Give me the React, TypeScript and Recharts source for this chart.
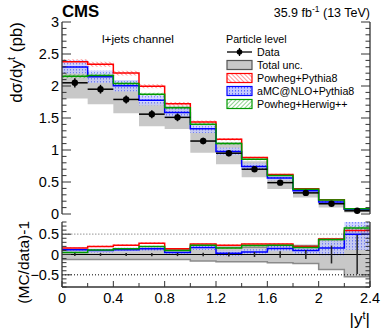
import React from "react";
import { Area, ComposedChart, ErrorBar, Line, ReferenceLine, Scatter, XAxis, YAxis } from "recharts";

const FONT = "'Liberation Sans', Arial, Helvetica, sans-serif";
const AXIS = "#333";

// bins in |y_t|
const binEdges = [0, 0.2, 0.4, 0.6, 0.8, 1.0, 1.2, 1.4, 1.6, 1.8, 2.0, 2.2, 2.4];
// measured cross section (pb) and relative uncertainties
const dataXsec = [2.05, 1.95, 1.79, 1.56, 1.51, 1.14, 0.95, 0.7, 0.49, 0.33, 0.16, 0.05];
const dataStatRel = [0.035, 0.035, 0.035, 0.04, 0.04, 0.045, 0.05, 0.06, 0.08, 0.11, 0.22, 0.48];
const totalUncRel = [0.12, 0.12, 0.12, 0.12, 0.12, 0.16, 0.18, 0.18, 0.2, 0.22, 0.37, 0.55];
// (MC/data)-1 per generator, with their band half widths
const powhegPythiaRatio = [0.16, 0.2, 0.23, 0.28, 0.14, 0.26, 0.23, 0.26, 0.26, 0.2, 0.38, 0.59];
const powhegPythiaUnc = [0.02, 0.02, 0.02, 0.02, 0.02, 0.02, 0.02, 0.02, 0.025, 0.025, 0.03, 0.05];
const amcRatio = [0.12, 0.1, 0.12, 0.14, 0.05, 0.17, 0.03, 0.06, 0.15, 0.1, 0.16, 0.5];
const amcUnc = [0.05, 0.05, 0.05, 0.05, 0.05, 0.06, 0.06, 0.07, 0.07, 0.08, 0.18, 0.38];
const powhegHerwigRatio = [0.05, 0.11, 0.14, 0.2, 0.1, 0.23, 0.16, 0.22, 0.23, 0.17, 0.37, 0.65];
const powhegHerwigUnc = [0.015, 0.015, 0.015, 0.015, 0.015, 0.015, 0.02, 0.02, 0.02, 0.025, 0.03, 0.05];

const yMajorTop = [0, 0.5, 1, 1.5, 2, 2.5, 3];
const yMajorRatio = [-0.5, 0, 0.5];
const xMajor = [0, 0.4, 0.8, 1.2, 1.6, 2, 2.4];

const yMinorTop = Array.from({ length: 31 }, (_, i) => i / 10);
const yMinorRatio = Array.from({ length: 17 }, (_, i) => (i - 8) / 10);

const nBins = dataXsec.length;

const stepRows = binEdges.map((x, i) => {
  const k = Math.min(i, nBins - 1);
  const d = dataXsec[k];
  const red = d * (1 + powhegPythiaRatio[k]);
  const blue = d * (1 + amcRatio[k]);
  const green = d * (1 + powhegHerwigRatio[k]);
  return {
    x,
    tot: [d * (1 - totalUncRel[k]), d * (1 + totalUncRel[k])],
    red,
    redBand: [red - d * powhegPythiaUnc[k], red + d * powhegPythiaUnc[k]],
    blue,
    blueBand: [blue - d * amcUnc[k], blue + d * amcUnc[k]],
    green,
    greenBand: [green - d * powhegHerwigUnc[k], green + d * powhegHerwigUnc[k]],
    rTot: [-totalUncRel[k], totalUncRel[k]],
    rRed: powhegPythiaRatio[k],
    rRedBand: [powhegPythiaRatio[k] - powhegPythiaUnc[k], powhegPythiaRatio[k] + powhegPythiaUnc[k]],
    rBlue: amcRatio[k],
    rBlueBand: [amcRatio[k] - amcUnc[k], amcRatio[k] + amcUnc[k]],
    rGreen: powhegHerwigRatio[k],
    rGreenBand: [powhegHerwigRatio[k] - powhegHerwigUnc[k], powhegHerwigRatio[k] + powhegHerwigUnc[k]],
  };
});

const points = dataXsec.map((d, i) => ({
  x: (binEdges[i] + binEdges[i + 1]) / 2,
  y: d,
  r: 0,
  ex: (binEdges[i + 1] - binEdges[i]) / 2,
  ey: d * dataStatRel[i],
  er: dataStatRel[i],
}));

const fmt = (v: number) => (v < 0 ? "\u2212" : "") + String(+Math.abs(v).toFixed(2));

type Side = "left" | "right" | "top" | "bottom";
function makeTick(side: Side, major: number[], majorLen: number, minorLen: number, withLabel = false) {
  return (props: any) => {
    const { x, y, payload } = props;
    const v = payload.value as number;
    const isMajor = major.some((m) => Math.abs(m - v) < 1e-6);
    const len = isMajor ? majorLen : minorLen;
    let line;
    if (side === "left") line = <line x1={x} y1={y} x2={x + len} y2={y} />;
    else if (side === "right") line = <line x1={x} y1={y} x2={x - len} y2={y} />;
    else if (side === "top") line = <line x1={x} y1={y} x2={x} y2={y + len} />;
    else line = <line x1={x} y1={y} x2={x} y2={y - len} />;
    let label = null;
    if (withLabel && isMajor) {
      label =
        side === "left" ? (
          <text x={x - 3} y={y + 5} textAnchor="end" fontSize={14.5} fontFamily={FONT} fill="#000">
            {fmt(v)}
          </text>
        ) : (
          <text x={x} y={y + 16} textAnchor="middle" fontSize={14.5} fontFamily={FONT} fill="#000">
            {fmt(v)}
          </text>
        );
    }
    return (
      <g>
        <g stroke={AXIS} strokeWidth={1}>{line}</g>
        {label}
      </g>
    );
  };
}

function Patterns({ prefix }: { prefix: string }) {
  return (
    <defs>
      <pattern id={`${prefix}-red`} patternUnits="userSpaceOnUse" width="3" height="3" patternTransform="rotate(-45)">
        <line x1="0" y1="0" x2="0" y2="3" stroke="#ff3030" strokeWidth="1" />
      </pattern>
      <pattern id={`${prefix}-green`} patternUnits="userSpaceOnUse" width="3" height="3" patternTransform="rotate(45)">
        <line x1="0" y1="0" x2="0" y2="3" stroke="#20a820" strokeWidth="1" />
      </pattern>
      <pattern id={`${prefix}-blue`} patternUnits="userSpaceOnUse" width="3" height="3">
        <rect width="3" height="3" fill="#c4c9ff" />
        <rect x="1" y="0" width="1" height="1.5" fill="#5565ff" />
      </pattern>
    </defs>
  );
}

const RED = "#ff0000";
const BLUE = "#0000ff";
const GREEN = "#009a00";
const GREY = "#c8c8c8";

function TopPanel() {
  const xTicks = binEdges;
  return (
    <ComposedChart width={390} height={232} data={stepRows} margin={{ top: 22, right: 0, left: 0, bottom: 18 }}>
      <Patterns prefix="top" />
      <XAxis dataKey="x" type="number" domain={[0, 2.4]} allowDataOverflow ticks={xTicks} interval={0} height={0}
        tickSize={0} tickMargin={0} axisLine={{ stroke: AXIS, strokeWidth: 1.3 }} tickLine={false}
        tick={makeTick("bottom", xMajor, 8, 4)} />
      <XAxis xAxisId="t" orientation="top" type="number" domain={[0, 2.4]} allowDataOverflow ticks={xTicks} interval={0}
        height={0} tickSize={0} tickMargin={0} axisLine={{ stroke: AXIS, strokeWidth: 1.3 }} tickLine={false}
        tick={makeTick("top", xMajor, 8, 4)} />
      <YAxis type="number" domain={[0, 3]} allowDataOverflow ticks={yMinorTop} interval={0} width={62} tickSize={0}
        tickMargin={0} axisLine={{ stroke: AXIS, strokeWidth: 1.3 }} tickLine={false}
        tick={makeTick("left", yMajorTop, 9, 4.5, true)} />
      <YAxis yAxisId="r" orientation="right" type="number" domain={[0, 3]} allowDataOverflow ticks={yMinorTop}
        interval={0} width={20} tickSize={0} tickMargin={0} axisLine={{ stroke: AXIS, strokeWidth: 1.3 }}
        tickLine={false} tick={makeTick("right", yMajorTop, 9, 4.5)} />

      <Area dataKey="tot" type="stepAfter" fill={GREY} fillOpacity={1} stroke="none" isAnimationActive={false} activeDot={false} />
      <Area dataKey="redBand" type="stepAfter" fill="url(#top-red)" fillOpacity={1} stroke="none" isAnimationActive={false} activeDot={false} />
      <Line dataKey="red" type="stepAfter" stroke={RED} strokeWidth={1.5} dot={false} activeDot={false} isAnimationActive={false} />
      <Area dataKey="blueBand" type="stepAfter" fill="url(#top-blue)" fillOpacity={0.75} stroke="none" isAnimationActive={false} activeDot={false} />
      <Line dataKey="blue" type="stepAfter" stroke={BLUE} strokeWidth={1.5} dot={false} activeDot={false} isAnimationActive={false} />
      <Area dataKey="greenBand" type="stepAfter" fill="url(#top-green)" fillOpacity={1} stroke="none" isAnimationActive={false} activeDot={false} />
      <Line dataKey="green" type="stepAfter" stroke={GREEN} strokeWidth={1.5} dot={false} activeDot={false} isAnimationActive={false} />

      <Scatter data={points} dataKey="y" isAnimationActive={false}
        shape={(p: any) => <circle cx={p.cx} cy={p.cy} r={3.2} fill="#000" />}>
        <ErrorBar dataKey="ey" direction="y" width={0} stroke="#000" strokeWidth={1.5} isAnimationActive={false} />
        <ErrorBar dataKey="ex" direction="x" width={0} stroke="#000" strokeWidth={1.5} isAnimationActive={false} />
      </Scatter>
    </ComposedChart>
  );
}

function RatioPanel() {
  const xTicks = binEdges;
  return (
    <ComposedChart width={390} height={115} data={stepRows} margin={{ top: 6, right: 0, left: 0, bottom: 0 }}>
      <Patterns prefix="rat" />
      <XAxis dataKey="x" type="number" domain={[0, 2.4]} allowDataOverflow ticks={xTicks} interval={0} height={44}
        tickSize={0} tickMargin={0} axisLine={{ stroke: AXIS, strokeWidth: 1.3 }} tickLine={false}
        tick={makeTick("bottom", xMajor, 6, 4, true)} />
      <XAxis xAxisId="t" orientation="top" type="number" domain={[0, 2.4]} allowDataOverflow ticks={xTicks} interval={0}
        height={0} tickSize={0} tickMargin={0} axisLine={{ stroke: AXIS, strokeWidth: 1.3 }} tickLine={false}
        tick={makeTick("top", xMajor, 6, 4)} />
      <YAxis type="number" domain={[-0.8, 0.8]} allowDataOverflow ticks={yMinorRatio} interval={0} width={62}
        tickSize={0} tickMargin={0} axisLine={{ stroke: AXIS, strokeWidth: 1.3 }} tickLine={false}
        tick={makeTick("left", yMajorRatio, 9, 4.5, true)} />
      <YAxis yAxisId="r" orientation="right" type="number" domain={[-0.8, 0.8]} allowDataOverflow ticks={yMinorRatio}
        interval={0} width={20} tickSize={0} tickMargin={0} axisLine={{ stroke: AXIS, strokeWidth: 1.3 }}
        tickLine={false} tick={makeTick("right", yMajorRatio, 9, 4.5)} />

      <ReferenceLine y={0.5} stroke="#aaa" strokeDasharray="1.5 1.5" strokeWidth={1.2} />
      <ReferenceLine y={-0.5} stroke="#000" strokeDasharray="1 2" strokeWidth={1} />
      <Area dataKey="rTot" type="stepAfter" fill={GREY} fillOpacity={1} stroke="#8a8a8a" strokeWidth={1.5} isAnimationActive={false} activeDot={false} />
      <ReferenceLine y={0} stroke="#000" strokeWidth={1} />
      <Area dataKey="rRedBand" type="stepAfter" fill="url(#rat-red)" fillOpacity={1} stroke="none" isAnimationActive={false} activeDot={false} />
      <Line dataKey="rRed" type="stepAfter" stroke={RED} strokeWidth={1.5} dot={false} activeDot={false} isAnimationActive={false} />
      <Area dataKey="rBlueBand" type="stepAfter" fill="url(#rat-blue)" fillOpacity={0.75} stroke="none" isAnimationActive={false} activeDot={false} />
      <Line dataKey="rBlue" type="stepAfter" stroke={BLUE} strokeWidth={1.5} dot={false} activeDot={false} isAnimationActive={false} />
      <Area dataKey="rGreenBand" type="stepAfter" fill="url(#rat-green)" fillOpacity={1} stroke="none" isAnimationActive={false} activeDot={false} />
      <Line dataKey="rGreen" type="stepAfter" stroke={GREEN} strokeWidth={1.5} dot={false} activeDot={false} isAnimationActive={false} />

      <Scatter data={points} dataKey="r" isAnimationActive={false} shape={() => <g />}>
        <ErrorBar dataKey="er" direction="y" width={0} stroke="#222" strokeWidth={1.5} isAnimationActive={false} />
      </Scatter>
    </ComposedChart>
  );
}

const legendRows = [
  { key: "data", label: "Data", y: 52 },
  { key: "tot", label: "Total unc.", y: 65 },
  { key: "red", label: "Powheg+Pythia8", y: 78 },
  { key: "blue", label: "aMC@NLO+Pythia8", y: 91 },
  { key: "green", label: "Powheg+Herwig++", y: 104 },
];

function Overlay() {
  const sx = 227;
  const sw = 25;
  return (
    <svg width={390} height={331} style={{ position: "absolute", left: 0, top: 0, pointerEvents: "none" }} fontFamily={FONT}>
      <Patterns prefix="lg" />
      <text x={62} y={17} fontSize={16.8} fontWeight="bold">CMS</text>
      <text x={370} y={17} fontSize={12.5} textAnchor="end">
        35.9 fb<tspan dy={-5} fontSize={8.5}>-1</tspan>
        <tspan dy={5}> (13 TeV)</tspan>
      </text>
      <text x={102} y={43} fontSize={11.7}>l+jets channel</text>

      <text x={226} y={43} fontSize={10.7}>Particle level</text>
      {legendRows.map((r) => {
        let swatch;
        if (r.key === "data") {
          swatch = (
            <g stroke="#000" strokeWidth={1.3}>
              <line x1={sx} y1={r.y} x2={sx + sw} y2={r.y} />
              <line x1={sx + sw / 2} y1={r.y - 4} x2={sx + sw / 2} y2={r.y + 4} />
              <circle cx={sx + sw / 2} cy={r.y} r={2.8} fill="#000" stroke="none" />
            </g>
          );
        } else {
          const fill = r.key === "tot" ? GREY : `url(#lg-${r.key})`;
          const stroke = r.key === "tot" ? "#555" : r.key === "red" ? RED : r.key === "blue" ? BLUE : GREEN;
          swatch = <rect x={sx} y={r.y - 4.5} width={sw} height={9} fill={fill} stroke={stroke} strokeWidth={1.2} />;
        }
        return (
          <g key={r.key}>
            {swatch}
            <text x={257} y={r.y + 4} fontSize={10.7}>{r.label}</text>
          </g>
        );
      })}

      <text transform="translate(22,22) rotate(-90)" textAnchor="end" fontSize={17}>
        dσ/dy<tspan dy={-7} fontSize={11}>t</tspan>
        <tspan dy={7}> (pb)</tspan>
      </text>
      <text transform="translate(29,221) rotate(-90)" textAnchor="end" fontSize={15.5}>(MC/data)-1</text>
      <text x={370} y={325} textAnchor="end" fontSize={17}>
        |y<tspan dy={-6} fontSize={11}>t</tspan>
        <tspan dy={6}>|</tspan>
      </text>
    </svg>
  );
}

export default function App() {
  return (
    <div style={{ position: "absolute", left: 0, top: 0, width: 390, height: 331, background: "#fff", fontFamily: FONT }}>
      <div style={{ position: "absolute", left: 0, top: 0 }}>
        <TopPanel />
      </div>
      <div style={{ position: "absolute", left: 0, top: 216 }}>
        <RatioPanel />
      </div>
      <Overlay />
    </div>
  );
}
